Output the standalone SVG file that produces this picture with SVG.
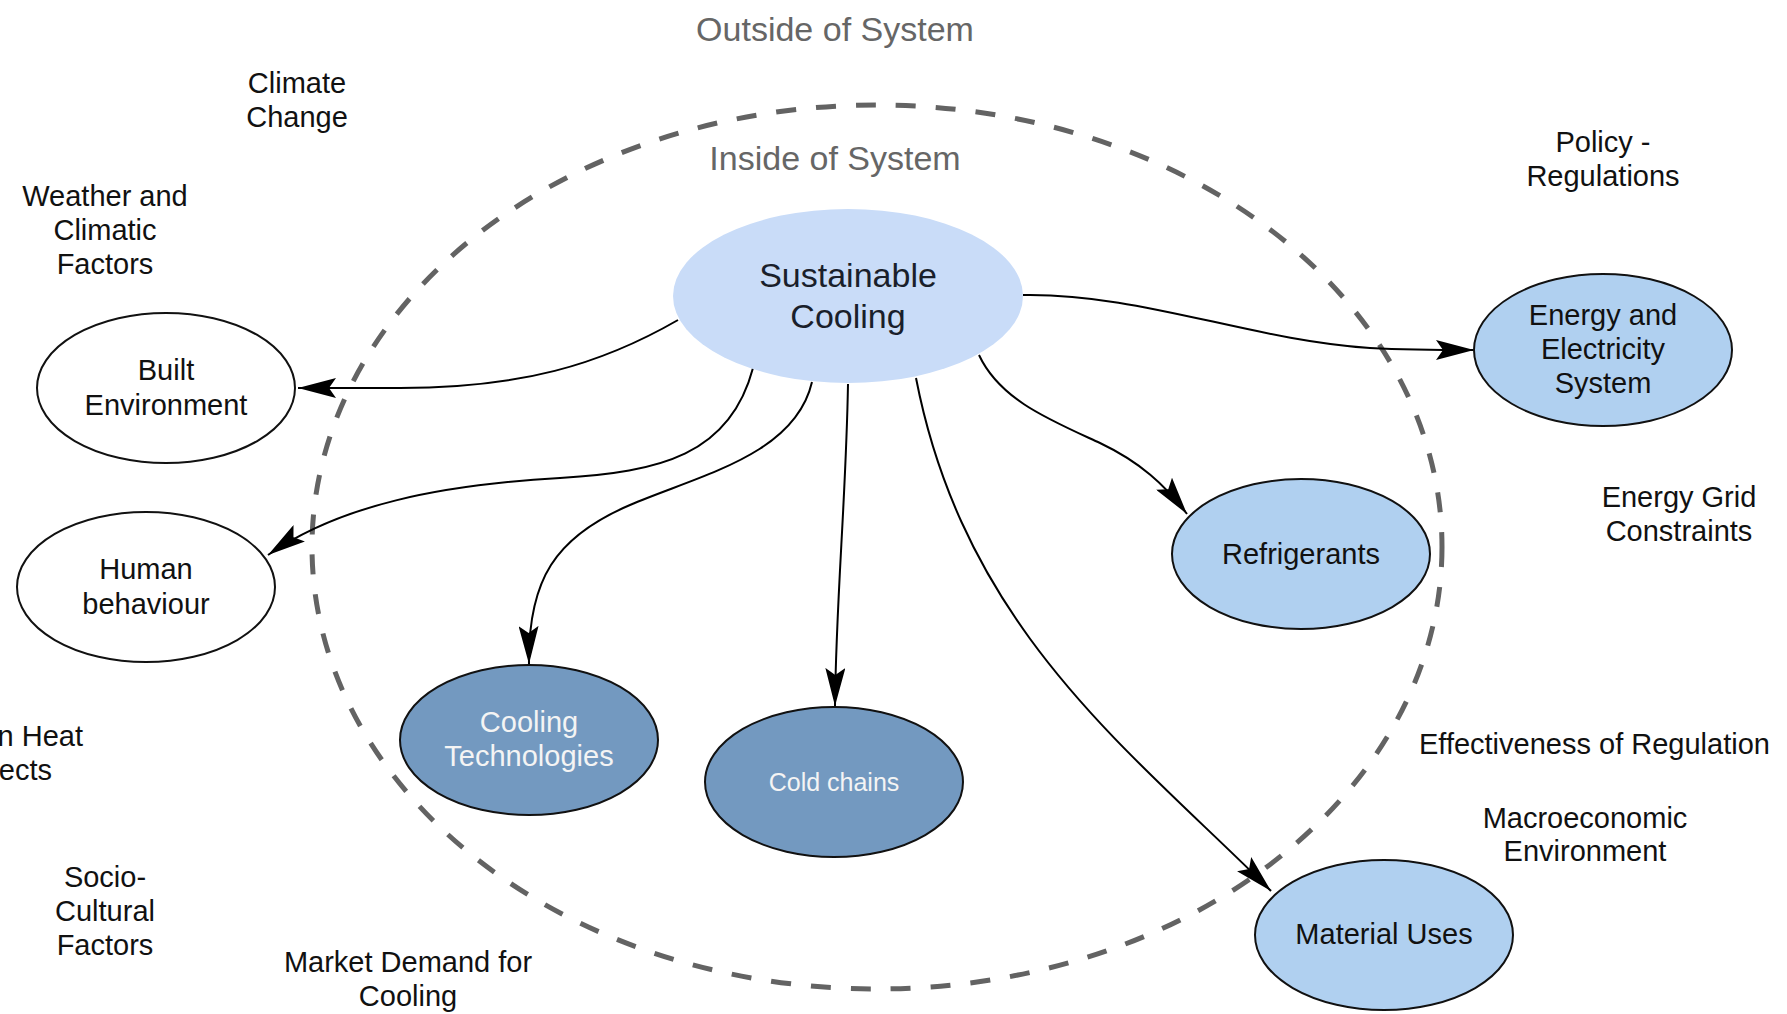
<svg xmlns="http://www.w3.org/2000/svg" width="1787" height="1014" viewBox="0 0 1787 1014">
<style>
text{font-family:"Liberation Sans",Arial,sans-serif;font-size:29px;fill:#111;text-anchor:middle}
.sys{font-size:34px;fill:#666}
.node{stroke:#111;stroke-width:2}
.white{fill:#fff}
.light{fill:#b0d0f0}
.dark{fill:#7399c0}
.wt{fill:#f4f4f4}
.conn{fill:none;stroke:#000;stroke-width:2;marker-end:url(#arr)}
</style>
<defs>
<marker id="arr" markerUnits="userSpaceOnUse" viewBox="0 0 38 20" refX="38" refY="10" markerWidth="38" markerHeight="20" orient="auto">
<path d="M0,0 L38,10 L0,20 L7,10 Z" fill="#000"/>
</marker>
</defs>
<rect width="1787" height="1014" fill="#fff"/>
<g id="boundary">
<ellipse cx="877" cy="547" rx="565" ry="442" fill="none" stroke="#636363" stroke-width="5" stroke-dasharray="20 20"/>
</g>
<g id="labels">
<text class="sys" x="835" y="41">Outside of System</text>
<text class="sys" x="835" y="170">Inside of System</text>
<text x="297" y="93">Climate</text><text x="297" y="127">Change</text>
<text x="105" y="206">Weather and</text><text x="105" y="240">Climatic</text><text x="105" y="274">Factors</text>
<text x="1603" y="152">Policy -</text><text x="1603" y="186">Regulations</text>
<text x="1679" y="507">Energy Grid</text><text x="1679" y="541">Constraints</text>
<text x="1419" y="754" style="text-anchor:start">Effectiveness of Regulation</text>
<text x="1585" y="828">Macroeconomic</text><text x="1585" y="861">Environment</text>
<text x="83" y="746" style="text-anchor:end">n Heat</text><text x="52" y="780" style="text-anchor:end">ects</text>
<text x="105" y="887">Socio-</text><text x="105" y="921">Cultural</text><text x="105" y="955">Factors</text>
<text x="408" y="972">Market Demand for</text><text x="408" y="1006">Cooling</text>
</g>
<g id="connectors">
<path class="conn" d="M678,320 C600,365 520,388 400,388 L298,388"/>
<path class="conn" d="M753,368 C730,455 660,472 560,478 C440,485 340,505 268,555"/>
<path class="conn" d="M812,382 C795,455 700,475 630,505 C555,537 528,580 529,664"/>
<path class="conn" d="M848,384 C846,500 836,600 835,706"/>
<path class="conn" d="M916,378 C965,630 1130,750 1271,891"/>
<path class="conn" d="M979,355 C1000,400 1050,420 1100,443 C1140,462 1165,485 1187,514"/>
<path class="conn" d="M1023,295 C1140,293 1250,340 1370,348 C1410,350 1440,350 1474,350"/>
</g>
<g id="sustainable-cooling">
<ellipse cx="848" cy="296" rx="175" ry="87" fill="#c9dcf8"/>
<text x="848" y="287" style="font-size:34px;fill:#1a1f2b">Sustainable</text>
<text x="848" y="328" style="font-size:34px;fill:#1a1f2b">Cooling</text>
</g>
<g id="built-environment">
<ellipse class="node white" cx="166" cy="388" rx="129" ry="75"/>
<text x="166" y="380">Built</text><text x="166" y="415">Environment</text>
</g>
<g id="human-behaviour">
<ellipse class="node white" cx="146" cy="587" rx="129" ry="75"/>
<text x="146" y="579">Human</text><text x="146" y="614">behaviour</text>
</g>
<g id="cooling-technologies">
<ellipse class="node dark" cx="529" cy="740" rx="129" ry="75"/>
<text class="wt" x="529" y="732">Cooling</text><text class="wt" x="529" y="766">Technologies</text>
</g>
<g id="cold-chains">
<ellipse class="node dark" cx="834" cy="782" rx="129" ry="75"/>
<text class="wt" x="834" y="791" style="font-size:25px">Cold chains</text>
</g>
<g id="refrigerants">
<ellipse class="node light" cx="1301" cy="554" rx="129" ry="75"/>
<text x="1301" y="564">Refrigerants</text>
</g>
<g id="energy-electricity">
<ellipse class="node light" cx="1603" cy="350" rx="129" ry="76"/>
<text x="1603" y="325">Energy and</text><text x="1603" y="359">Electricity</text><text x="1603" y="393">System</text>
</g>
<g id="material-uses">
<ellipse class="node light" cx="1384" cy="935" rx="129" ry="75"/>
<text x="1384" y="944">Material Uses</text>
</g>
</svg>
